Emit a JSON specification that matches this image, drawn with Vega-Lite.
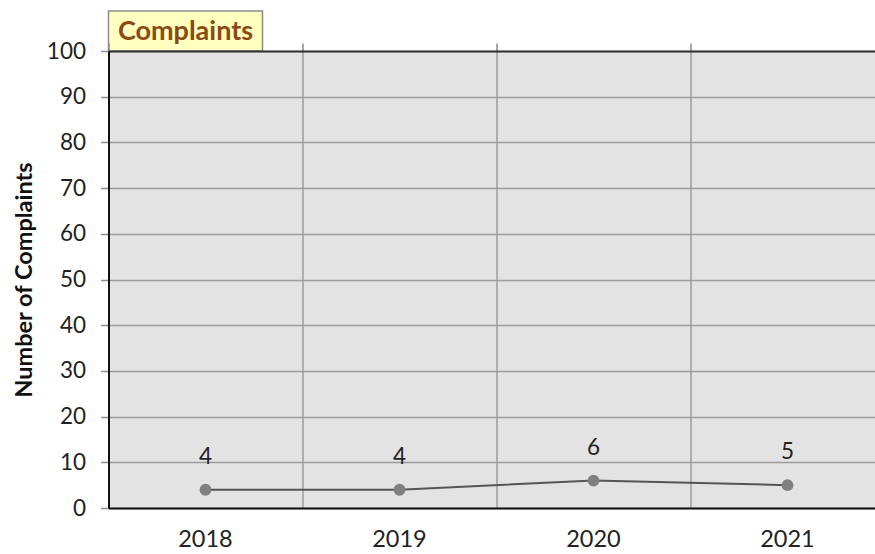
{
  "$schema": "https://vega.github.io/schema/vega-lite/v6.json",
  "padding": {"left": 11.5, "top": 10, "right": 0, "bottom": 0},
  "background": "white",
  "spacing": 0,
  "bounds": "flush",
  "config": {
    "font": "Lato",
    "axis": {"labelFont": "Lato", "titleFont": "Lato"}
  },
  "vconcat": [
    {
      "width": 154,
      "height": 40,
      "view": {"fill": "#ffffc0", "stroke": "#8c8c8c", "strokeWidth": 1.5},
      "data": {"values": [{"t": "Complaints"}]},
      "mark": {"type": "text", "font": "Lato", "fontSize": 27, "fontWeight": "bold", "color": "#8b4a14", "baseline": "middle", "align": "center", "dy": 1},
      "encoding": {"text": {"field": "t"}}
    },
    {
      "width": 776,
      "height": 457,
      "view": {"fill": "#e3e3e3", "stroke": null},
      "data": {"values": [
        {"year": "2018", "count": 4},
        {"year": "2019", "count": 4},
        {"year": "2020", "count": 6},
        {"year": "2021", "count": 5}
      ]},
      "encoding": {
        "x": {
          "field": "year", "type": "ordinal",
          "scale": {"type": "band", "paddingInner": 0, "paddingOuter": 0},
          "axis": null
        },
        "y": {
          "field": "count", "type": "quantitative",
          "scale": {"domain": [0, 100], "nice": false},
          "axis": {
            "title": "Number of Complaints",
            "titleFontSize": 23.5, "titleFontWeight": "bold", "titleColor": "#111",
            "titlePadding": 10,
            "values": [0, 10, 20, 30, 40, 50, 60, 70, 80, 90, 100],
            "labelFontSize": 22.5, "labelColor": "#222", "labelPadding": 15,
            "tickSize": 8, "tickColor": "#8c8c8c", "tickWidth": 1.5,
            "domainColor": "#111", "domainWidth": 2,
            "grid": true, "gridColor": "#9c9c9c", "gridWidth": 1.5
          }
        }
      },
      "layer": [
        {
          "mark": {"type": "rule", "opacity": 0},
          "encoding": {
            "x": {
              "field": "year", "type": "ordinal",
              "axis": {
                "orient": "top", "bandPosition": 0, "labels": false, "title": null,
                "grid": true, "gridColor": "#9c9c9c", "gridWidth": 1.5,
                "ticks": true, "tickSize": 8, "tickColor": "#8c8c8c", "tickWidth": 1.5,
                "domainColor": "#333", "domainWidth": 2
              }
            },
            "y": {"value": 0}
          }
        },
        {
          "mark": {"type": "line", "color": "#555555", "strokeWidth": 2},
          "encoding": {
            "x": {
              "field": "year", "type": "ordinal",
              "axis": {
                "orient": "bottom", "title": null, "labelAngle": 0,
                "labelFontSize": 23.5, "labelColor": "#222", "labelPadding": 19,
                "ticks": false, "grid": false,
                "domainColor": "#111", "domainWidth": 2
              }
            }
          }
        },
        {
          "mark": {"type": "point", "filled": true, "color": "#808080", "size": 140, "opacity": 1}
        },
        {
          "mark": {"type": "text", "fontSize": 22.5, "color": "#222", "dy": -33, "font": "Lato"},
          "encoding": {"text": {"field": "count", "type": "quantitative"}}
        }
      ]
    }
  ]
}
